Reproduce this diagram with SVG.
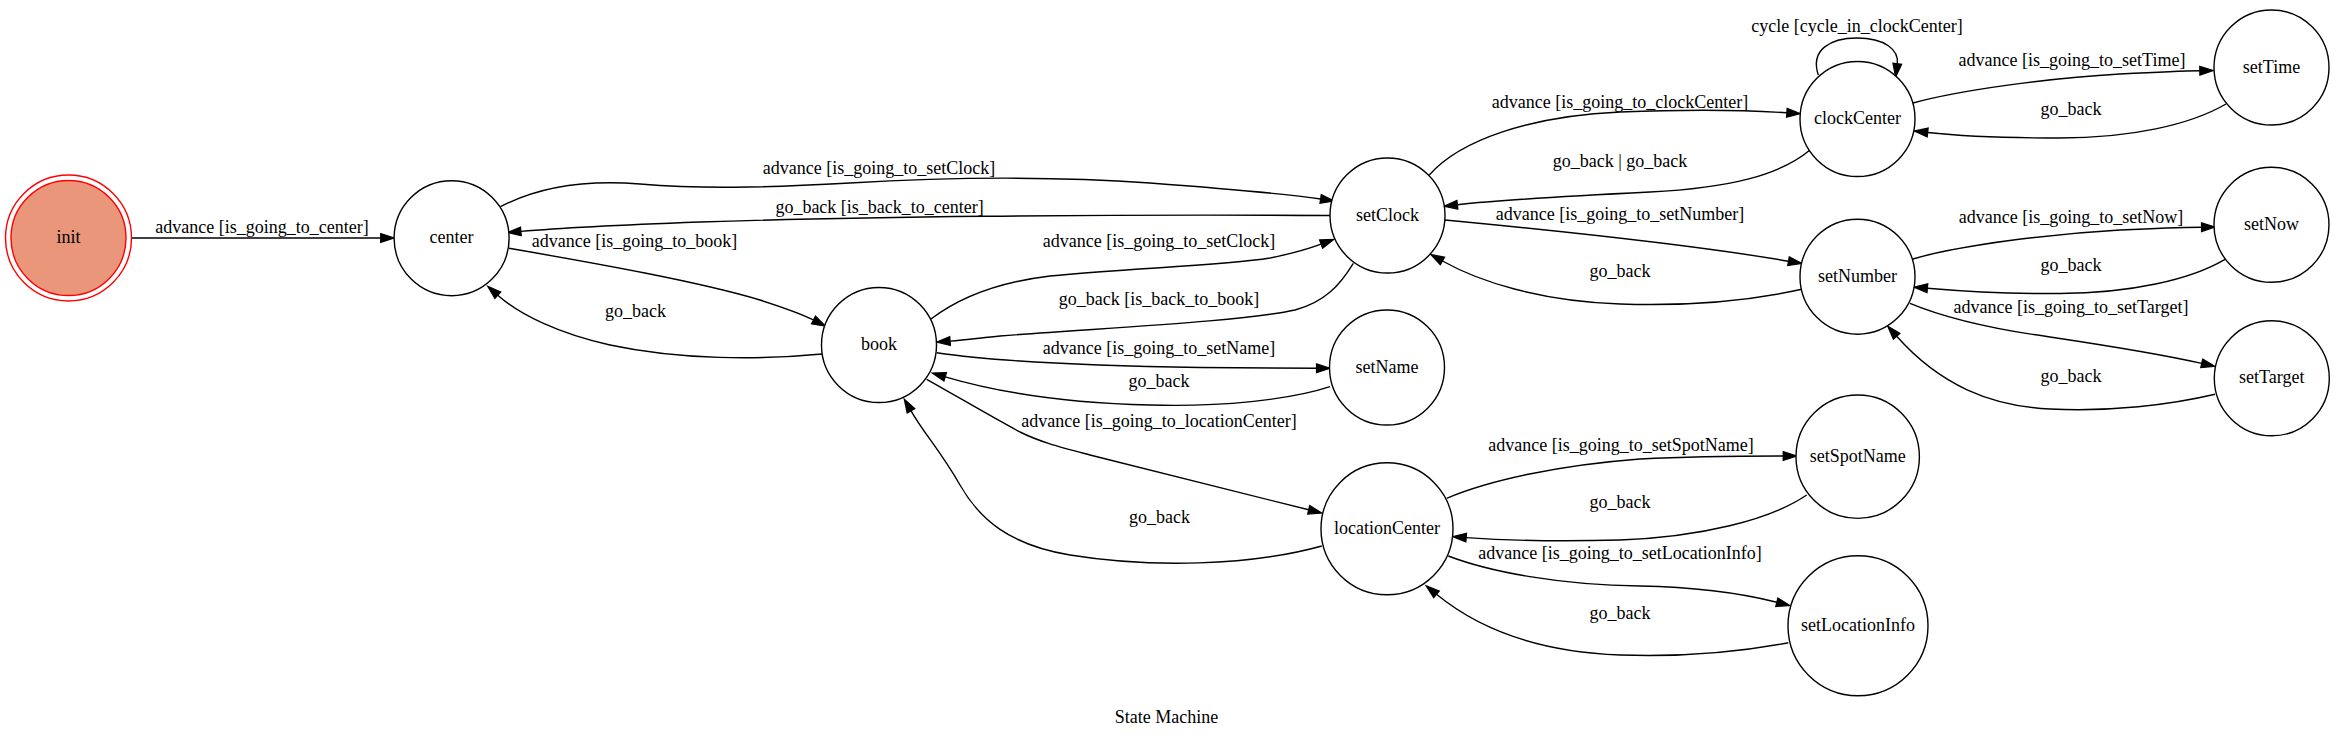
<svg xmlns="http://www.w3.org/2000/svg" width="2334" height="739" viewBox="0 0 2334 739">
<style>
.n ellipse, .n circle { fill: #ffffff; stroke: #000000; stroke-width: 1.4; }
text { font-family: "Liberation Serif", "Times New Roman", serif; font-size: 18px; text-anchor: middle; fill: #000000; }
.e path { fill: none; stroke: #000000; stroke-width: 1.4; marker-end: url(#ah); }
</style>
<defs>
<marker id="ah" markerWidth="15" markerHeight="11" refX="0" refY="5" orient="auto" markerUnits="userSpaceOnUse" viewBox="0 0 15 10" overflow="visible">
<path d="M0,0.6 L13.5,5 L0,9.4 z" fill="#000000" stroke="#000000" stroke-width="1.2"/>
</marker>
</defs>
<rect x="0" y="0" width="2334" height="739" fill="#ffffff"/>

<g id="connectors" class="e">
<path d="M131.5,238 L380.7,238"/>
<path d="M500.5,206.7 C540,186 590,180 640,184 C700,189 760,188 850,183 C950,177 1050,176 1150,183 C1230,189 1280,193 1320.6,199"/>
<path d="M1330,215.5 C1100,214 850,217 700,222 C620,225 560,228 520.9,231.4"/>
<path d="M509,248.3 C600,264 700,282 760,300 C785,308 800,313 813.5,320"/>
<path d="M822,354 C760,360 680,360 610,345 C560,334 520,315 497.8,295.2"/>
<path d="M931,319 C960,297 1000,282 1050,276 C1130,268 1220,266 1270,258 C1290,254 1305,250 1321.1,244.1"/>
<path d="M1353.3,263.3 C1340,285 1325,302 1295,310 C1240,322 1100,328 1000,336 C980,338 965,340 950.1,341.1"/>
<path d="M936.7,352.7 C1000,362 1100,366 1200,367.5 C1250,368 1290,368.3 1316.5,368.3"/>
<path d="M1330,386.7 C1290,400 1220,407 1150,405 C1070,403 1000,393 945.2,376.8"/>
<path d="M926.7,379.3 C960,398 990,416 1020,432 C1040,442 1060,447 1090,455 L1308.7,509.8"/>
<path d="M1321.8,546 C1250,566 1150,568 1070,555 C1010,545 980,520 960,485 C940,450 925,435 911,410.8"/>
<path d="M1429.3,175 C1460,140 1530,116 1620,112 C1700,109 1760,111 1786.8,112.8"/>
<path d="M1810,150 C1780,175 1730,188 1650,192 C1570,196 1500,200 1457.4,204.7"/>
<path d="M1445,220 C1550,230 1700,246 1788.5,261.2"/>
<path d="M1801.7,289.3 C1740,303 1680,306 1620,304 C1540,301 1480,282 1442.5,261"/>
<path d="M1818.3,75 C1810,50 1830,38 1857,38 C1885,38 1899,50 1897.3,63.8"/>
<path d="M1913,103 C1960,90 2050,78 2120,74 C2160,72 2185,71 2199.8,70.8"/>
<path d="M2226,104 C2190,125 2130,138 2060,138 C2010,138 1960,136 1927.7,132.5"/>
<path d="M1913,259 C1960,245 2050,234 2120,230 C2160,228 2185,227.3 2201.5,227.2"/>
<path d="M2225,259.3 C2190,280 2130,293 2060,293.5 C2010,294 1960,291 1927.4,288.2"/>
<path d="M1910,303.3 C1950,320 2000,330 2050,337 C2110,346 2160,354 2201.7,363.4"/>
<path d="M2215,394.3 C2170,405 2110,412 2050,409 C1990,406 1940,385 1896.7,336.3"/>
<path d="M1446.7,498.3 C1490,480 1560,465 1640,459 C1700,456 1750,456 1783.2,456"/>
<path d="M1806.7,495 C1770,520 1700,537 1620,540 C1550,542 1500,540 1466.2,537.6"/>
<path d="M1448.3,556 C1490,572 1560,585 1640,586 C1700,587 1740,593 1776.8,602.2"/>
<path d="M1788.3,642.7 C1740,652 1680,657 1620,655 C1540,652 1480,630 1436.5,594.3"/>

<text x="262" y="232.7">advance [is_going_to_center]</text>
<text x="879" y="174.3">advance [is_going_to_setClock]</text>
<text x="879.6" y="213.3">go_back [is_back_to_center]</text>
<text x="634.5" y="246.7">advance [is_going_to_book]</text>
<text x="635.5" y="316.7">go_back</text>
<text x="1159" y="246.7">advance [is_going_to_setClock]</text>
<text x="1159" y="305">go_back [is_back_to_book]</text>
<text x="1159" y="354.3">advance [is_going_to_setName]</text>
<text x="1159" y="386.7">go_back</text>
<text x="1159" y="426.7">advance [is_going_to_locationCenter]</text>
<text x="1159.5" y="523.3">go_back</text>
<text x="1620" y="107.5">advance [is_going_to_clockCenter]</text>
<text x="1620" y="166.7">go_back | go_back</text>
<text x="1620" y="220">advance [is_going_to_setNumber]</text>
<text x="1620" y="276.7">go_back</text>
<text x="1621" y="450.7">advance [is_going_to_setSpotName]</text>
<text x="1620" y="508.3">go_back</text>
<text x="1620" y="559.3">advance [is_going_to_setLocationInfo]</text>
<text x="1620" y="619.3">go_back</text>
<text x="1857" y="32.3">cycle [cycle_in_clockCenter]</text>
<text x="2072" y="65.7">advance [is_going_to_setTime]</text>
<text x="2071" y="115">go_back</text>
<text x="2071" y="222.7">advance [is_going_to_setNow]</text>
<text x="2071" y="271">go_back</text>
<text x="2071" y="313.3">advance [is_going_to_setTarget]</text>
<text x="2071" y="381.7">go_back</text>
</g>

<g id="init" class="n">
<circle cx="68.5" cy="238" r="63" style="fill:none;stroke:#ff0000"/>
<circle cx="68.5" cy="238" r="57.5" style="fill:#e9967a;stroke:#ff0000"/>
<text x="68.5" y="243">init</text>
</g>
<g id="center" class="n"><circle cx="451.6" cy="238.2" r="57.5"/><text x="451.6" y="243.2">center</text></g>
<g id="book" class="n"><circle cx="879" cy="345" r="57.5"/><text x="879" y="350">book</text></g>
<g id="setClock" class="n"><circle cx="1387.5" cy="215.5" r="57.5"/><text x="1387.5" y="220.5">setClock</text></g>
<g id="setName" class="n"><circle cx="1387" cy="367.5" r="57.5"/><text x="1387" y="372.5">setName</text></g>
<g id="locationCenter" class="n"><circle cx="1387" cy="528.8" r="66"/><text x="1387" y="533.8">locationCenter</text></g>
<g id="clockCenter" class="n"><circle cx="1857.5" cy="119" r="57.5"/><text x="1857.5" y="124">clockCenter</text></g>
<g id="setNumber" class="n"><circle cx="1857.5" cy="276.7" r="57.5"/><text x="1857.5" y="281.7">setNumber</text></g>
<g id="setSpotName" class="n"><circle cx="1857.7" cy="456.7" r="61.7"/><text x="1857.7" y="461.7">setSpotName</text></g>
<g id="setLocationInfo" class="n"><circle cx="1858" cy="625.8" r="70"/><text x="1858" y="630.8">setLocationInfo</text></g>
<g id="setTime" class="n"><circle cx="2271.5" cy="67.5" r="57.5"/><text x="2271.5" y="72.5">setTime</text></g>
<g id="setNow" class="n"><circle cx="2271.5" cy="224.8" r="57.5"/><text x="2271.5" y="229.8">setNow</text></g>
<g id="setTarget" class="n"><circle cx="2271.8" cy="378.3" r="57.5"/><text x="2271.8" y="383.3">setTarget</text></g>

<g id="title"><text x="1166.6" y="723.3">State Machine</text></g>
</svg>
